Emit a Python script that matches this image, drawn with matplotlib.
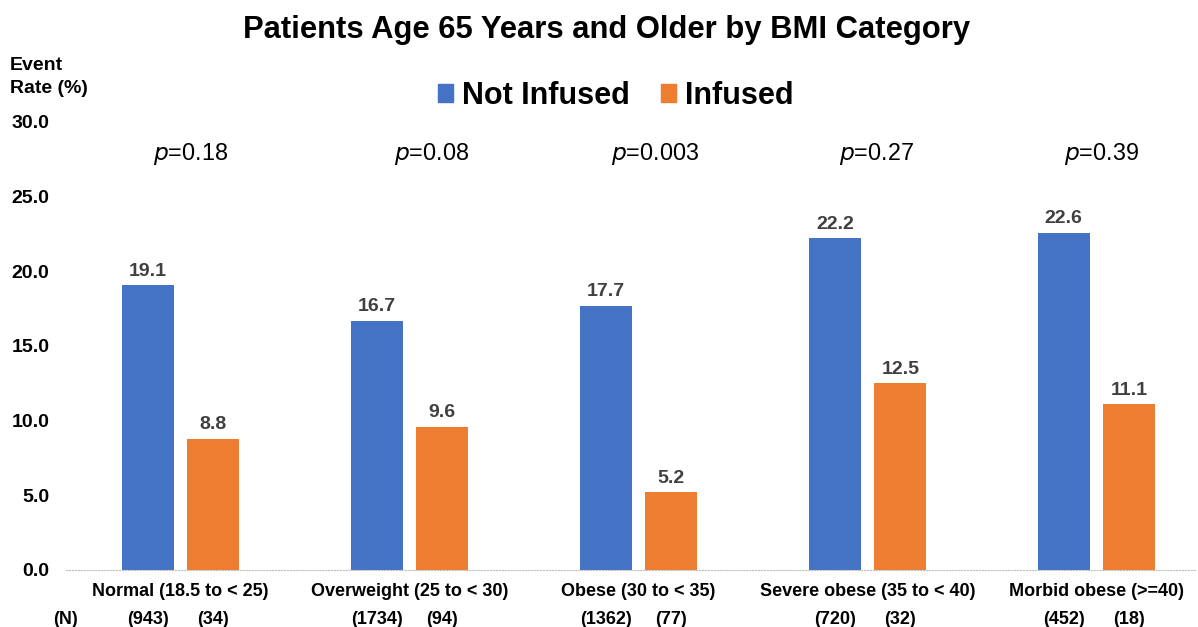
import matplotlib.pyplot as plt
import matplotlib.transforms as mtransforms
from matplotlib.patches import Patch
import numpy as np

plt.rcParams['font.family'] = ['Liberation Sans', 'DejaVu Sans']

categories = ['Normal (18.5 to < 25)', 'Overweight (25 to < 30)', 'Obese (30 to < 35)',
              'Severe obese (35 to < 40)', 'Morbid obese (>=40)']
not_infused = [19.1, 16.7, 17.7, 22.2, 22.6]
infused = [8.8, 9.6, 5.2, 12.5, 11.1]
n_not_infused = [943, 1734, 1362, 720, 452]
n_infused = [34, 94, 77, 32, 18]
p_values = ['0.18', '0.08', '0.003', '0.27', '0.39']
yticks = [0, 5, 10, 15, 20, 25, 30]

blue = '#4472C4'
orange = '#ED7D31'

# p-value text boxes sit slightly right of each group centre in the original
p_shift = [0.044, 0.096, 0.07, 0.039, 0.022]

fig = plt.figure(figsize=(11.98, 6.27), dpi=100)
ax = fig.add_axes([66 / 1198, 1 - 570 / 627, (1195 - 66) / 1198, (570 - 122) / 627])

x = np.arange(len(categories))
w = 0.227
off = 0.143
b1 = ax.bar(x - off, not_infused, w, color=blue)
b2 = ax.bar(x + off, infused, w, color=orange)

for bars, vals in [(b1, not_infused), (b2, infused)]:
    for b, v in zip(bars, vals):
        ax.text(b.get_x() + b.get_width() / 2, v + 0.35, f'{v:.1f}', ha='center', va='bottom',
                fontsize=14, fontweight='bold', color='#404040')

for xi, p, s in zip(x, p_values, p_shift):
    ax.text(xi + s, 27.85, r'$\it{p}$' + '=' + p, ha='center', va='center', fontsize=16.8)

ax.set_xlim(-0.5, 4.43)
ax.set_ylim(0, 30)
ax.set_yticks(yticks)
ax.set_yticklabels([f'{t:.1f}' for t in yticks], fontsize=14, fontweight='bold')
ax.set_xticks([])
for s in ['top', 'right', 'left']:
    ax.spines[s].set_visible(False)
ax.spines['bottom'].set_color('#BFBFBF')
ax.spines['bottom'].set_linestyle(':')
ax.tick_params(axis='y', length=0, pad=12)

# category names and group sizes under the axis
trans = mtransforms.blended_transform_factory(ax.transData, fig.transFigure)
for xi, c, n1, n2 in zip(x, categories, n_not_infused, n_infused):
    ax.text(xi, 1 - 592 / 627, c, transform=trans, ha='center', va='center',
            fontsize=13, fontweight='bold')
    ax.text(xi - off, 1 - 619 / 627, f'({n1})', transform=trans, ha='center', va='center',
            fontsize=13, fontweight='bold')
    ax.text(xi + off, 1 - 619 / 627, f'({n2})', transform=trans, ha='center', va='center',
            fontsize=13, fontweight='bold')
fig.text(65 / 1198, 1 - 619 / 627, '(N)', ha='center', va='center', fontsize=13, fontweight='bold')

fig.text(607 / 1198, 1 - 30 / 627, 'Patients Age 65 Years and Older by BMI Category', ha='center',
         va='center', fontsize=22.3, fontweight='bold')
fig.text(10 / 1198, 1 - 77 / 627, 'Event\nRate (%)', ha='left', va='center', fontsize=14,
         fontweight='bold', linespacing=1.5)

handles = [Patch(color=blue, label='Not Infused'), Patch(color=orange, label='Infused')]
fig.legend(handles=handles, loc='center', bbox_to_anchor=(616 / 1198, 1 - 96 / 627), ncol=2,
           frameon=False, prop={'size': 22, 'weight': 'bold'}, handlelength=0.5,
           handleheight=0.5, handletextpad=0.3, columnspacing=1.0)

fig.savefig('out.png', dpi=100)
